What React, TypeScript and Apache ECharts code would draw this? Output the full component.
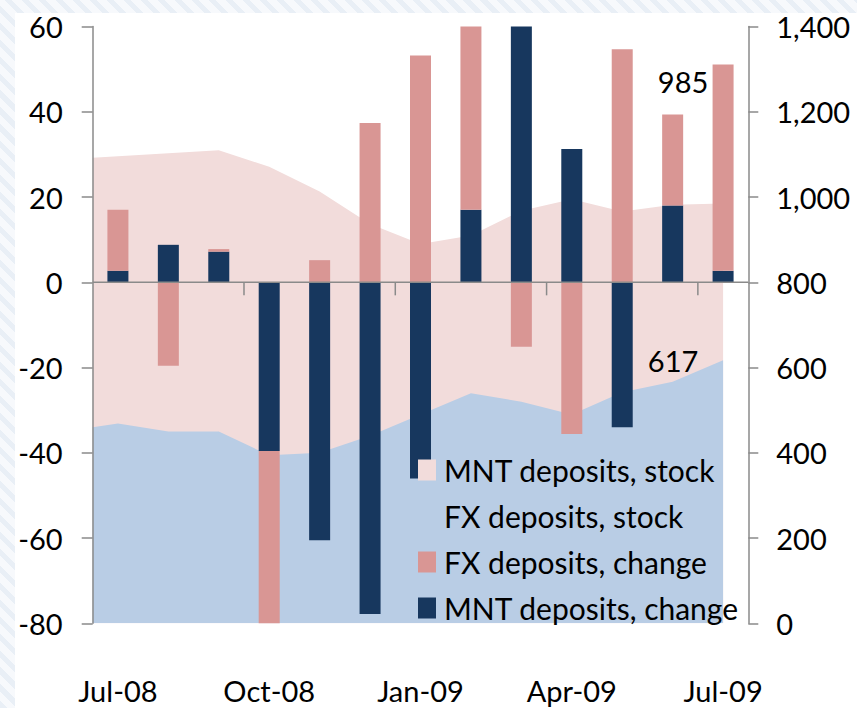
import React, { useEffect, useRef } from "react";
import * as echarts from "echarts";

// ---- Data ----
const months = [
  "Jul-08", "Aug-08", "Sep-08", "Oct-08", "Nov-08", "Dec-08", "Jan-09",
  "Feb-09", "Mar-09", "Apr-09", "May-09", "Jun-09", "Jul-09",
];
// monthly changes (left axis)
const mntChange = [2.7, 8.8, 7.2, -39.6, -60.5, -77.8, -46.0, 17.0, 64.0, 31.3, -34.0, 18.0, 2.7];
const fxChange = [14.3, -19.6, 0.6, -42.0, 5.2, 37.4, 53.2, 45.0, -15.1, -35.6, 54.7, 21.4, 48.4];
// stocks (right axis)
const fxStock = [469, 450, 450, 394, 400, 440, 490, 540, 520, 490, 542, 567, 617];
const mntStock = [627, 653, 660, 677, 613, 497, 400, 370, 448, 505, 424, 415, 368];
const fxStockStart = 460;
const mntStockStart = 632;
// axes
const leftMin = -80, leftMax = 60, leftStep = 20;
const rightMin = 0, rightMax = 1400, rightStep = 200;
const labelEvery = 3; // a label (and tick) every 3 months

const FONT = "Lato";
const AXIS_GRAY = "#8a8a8a";

export default function App() {
  const ref = useRef<HTMLDivElement>(null);

  useEffect(() => {
    if (!ref.current) return;
    const chart = echarts.init(ref.current, undefined, { renderer: "svg" });

    const totalStock = mntStock.map((v, i) => v + fxStock[i]);
    const totalData = [[0, mntStockStart + fxStockStart], ...totalStock.map((v, i) => [i + 0.5, v])];
    const fxData = [[0, fxStockStart], ...fxStock.map((v, i) => [i + 0.5, v])];
    const last = months.length - 1;

    const labelStyle = { fontFamily: FONT, fontSize: 29, color: "#000" };

    chart.setOption({
      animation: false,
      grid: {
        left: 92.7,
        right: 108.7,
        top: 26.6,
        bottom: 84.7,
        containLabel: false,
        outerBoundsMode: "none",
      },
      legend: {
        orient: "vertical",
        left: 418,
        top: 455,
        padding: 0,
        itemWidth: 18,
        itemHeight: 21,
        itemGap: 16,
        icon: "rect",
        selectedMode: false,
        data: ["MNT deposits, stock", "FX deposits, stock", "FX deposits, change", "MNT deposits, change"],
        textStyle: { ...labelStyle, fontSize: 30, lineHeight: 30, padding: [0, 0, 0, 3] },
      },
      xAxis: [
        {
          type: "category",
          data: months,
          boundaryGap: true,
          axisLine: { show: false, onZero: false },
          axisTick: { show: false },
          axisLabel: { ...labelStyle, lineHeight: 28, interval: labelEvery - 1, margin: 67, verticalAlign: "middle" },
          splitLine: { show: false },
        },
        { type: "value", min: 0, max: months.length, show: false },
      ],
      yAxis: [
        {
          type: "value",
          min: leftMin,
          max: leftMax,
          interval: leftStep,
          z: 10,
          axisLine: { show: true, onZero: false, lineStyle: { color: AXIS_GRAY, width: 1.5 } },
          axisTick: { show: true, length: 11, lineStyle: { color: AXIS_GRAY, width: 1.5 } },
          axisLabel: { ...labelStyle, margin: 30 },
          splitLine: { show: false },
        },
        {
          type: "value",
          position: "right",
          min: rightMin,
          max: rightMax,
          interval: rightStep,
          z: 10,
          axisLine: { show: true, onZero: false, lineStyle: { color: AXIS_GRAY, width: 1.5 } },
          axisTick: { show: true, length: 10, lineStyle: { color: AXIS_GRAY, width: 1.5 } },
          axisLabel: {
            ...labelStyle,
            margin: 28,
            formatter: (v: number) => v.toLocaleString("en-US"),
          },
          splitLine: { show: false },
        },
      ],
      series: [
        {
          name: "MNT deposits, stock",
          type: "line",
          xAxisIndex: 1,
          yAxisIndex: 1,
          data: totalData,
          showSymbol: false,
          symbol: "none",
          lineStyle: { width: 0 },
          itemStyle: { color: "#F2DCDB" },
          areaStyle: { color: "#F2DCDB", opacity: 1 },
          z: 1,
          markPoint: {
            symbol: "circle",
            symbolSize: 0,
            silent: true,
            label: { show: true, ...labelStyle, offset: [-40, -122], formatter: (p: any) => String(p.value) },
            data: [{ coord: [last + 0.5, totalStock[last]], value: totalStock[last] }],
          },
        },
        {
          name: "FX deposits, stock",
          type: "line",
          xAxisIndex: 1,
          yAxisIndex: 1,
          data: fxData,
          showSymbol: false,
          symbol: "none",
          lineStyle: { width: 0 },
          itemStyle: { color: "#B9CDE5" },
          areaStyle: { color: "#B9CDE5", opacity: 1 },
          z: 2,
          markPoint: {
            symbol: "circle",
            symbolSize: 0,
            silent: true,
            label: { show: true, ...labelStyle, offset: [-50, 0], formatter: (p: any) => String(p.value) },
            data: [{ coord: [last + 0.5, fxStock[last]], value: fxStock[last] }],
          },
        },
        {
          name: "MNT deposits, change",
          type: "bar",
          stack: "chg",
          xAxisIndex: 0,
          yAxisIndex: 0,
          data: mntChange,
          barWidth: 21,
          itemStyle: { color: "#17375E" },
          clip: true,
          z: 3,
        },
        {
          name: "FX deposits, change",
          type: "bar",
          stack: "chg",
          xAxisIndex: 0,
          yAxisIndex: 0,
          data: fxChange,
          barWidth: 21,
          itemStyle: { color: "#D99694" },
          clip: true,
          z: 3,
        },
      ],
    });

    // Category axis line on the zero of the left axis, with ticks between months every quarter
    const xStart = chart.convertToPixel({ xAxisIndex: 1 }, 0) as number;
    const xEnd = chart.convertToPixel({ xAxisIndex: 1 }, months.length) as number;
    const yZero = chart.convertToPixel({ yAxisIndex: 0 }, 0) as number;
    const axisStyle = { stroke: AXIS_GRAY, lineWidth: 1.5 };
    const elements: any[] = [
      { type: "line", z: 100, silent: true, shape: { x1: xStart, y1: yZero, x2: xEnd, y2: yZero }, style: axisStyle },
    ];
    for (let k = labelEvery; k < months.length; k += labelEvery) {
      const x = chart.convertToPixel({ xAxisIndex: 1 }, k) as number;
      elements.push({ type: "line", z: 100, silent: true, shape: { x1: x, y1: yZero, x2: x, y2: yZero + 13 }, style: axisStyle });
    }
    chart.setOption({ graphic: { elements } });

    return () => chart.dispose();
  }, []);

  return (
    <div
      style={{
        position: "absolute",
        left: 0,
        top: 0,
        width: 857,
        height: 708,
        overflow: "hidden",
        background:
          "repeating-linear-gradient(45deg, #e9eff6 0px, #e9eff6 5px, #f7f9fc 5px, #f7f9fc 12px)",
      }}
    >
      <div style={{ position: "absolute", left: 15, top: 13, right: 0, bottom: 0, background: "#fff" }} />
      <div ref={ref} style={{ position: "absolute", left: 0, top: 0, width: 857, height: 708 }} />
    </div>
  );
}
